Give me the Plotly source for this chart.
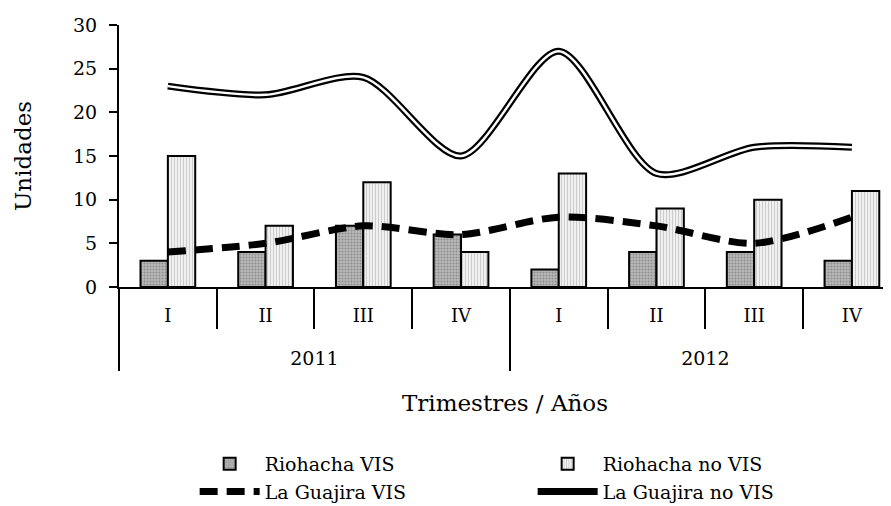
import plotly.graph_objects as go

# Data
years = ['2011', '2011', '2011', '2011', '2012', '2012', '2012', '2012']
quarters = ['I', 'II', 'III', 'IV', 'I', 'II', 'III', 'IV']
year_labels = ['2011', '2012']

riohacha_vis = [3, 4, 7, 6, 2, 4, 4, 3]
riohacha_no_vis = [15, 7, 12, 4, 13, 9, 10, 11]
guajira_vis = [4, 5, 7, 6, 8, 7, 5, 8]
guajira_no_vis = [23, 22, 24, 15, 27, 13, 16, 16]

# unique category keys, one per quarter
cats = ['{} {}'.format(y, q) for y, q in zip(years, quarters)]
n = len(cats)
per_year = n // len(year_labels)

font_family = 'DejaVu Serif'
x_range = [-0.5, n - 0.6]

fig = go.Figure()

fig.add_trace(go.Bar(x=cats, y=riohacha_vis, name='Riohacha VIS',
                     marker=dict(color='#a8a8a8', line=dict(color='black', width=2),
                                 pattern=dict(shape='.', fgcolor='#606060', bgcolor='#b8b8b8',
                                              size=3, solidity=0.35))))
fig.add_trace(go.Bar(x=cats, y=riohacha_no_vis, name='Riohacha no VIS',
                     marker=dict(color='#eeeeee', line=dict(color='black', width=2),
                                 pattern=dict(shape='|', fgcolor='#a0a0a0', bgcolor='#f0f0f0',
                                              size=3, solidity=0.3))))

fig.add_trace(go.Scatter(x=cats, y=guajira_vis, name='La Guajira VIS', mode='lines',
                         line=dict(color='black', width=7, dash='18px,9px',
                                   shape='spline', smoothing=0.8)))

# double line: thick black under a thin white line
fig.add_trace(go.Scatter(x=cats, y=guajira_no_vis, name='La Guajira no VIS', mode='lines',
                         legendgroup='nv',
                         line=dict(color='black', width=7, shape='spline', smoothing=0.8)))
fig.add_trace(go.Scatter(x=cats, y=guajira_no_vis, name='La Guajira no VIS', mode='lines',
                         legendgroup='nv', showlegend=False, hoverinfo='skip',
                         line=dict(color='white', width=2.5, shape='spline', smoothing=0.8)))

# year boundaries and year centres in category-index units
year_bounds = [i * per_year - 0.5 for i in range(len(year_labels) + 1)]
year_centers = [i * per_year + (per_year - 1) / 2 for i in range(len(year_labels))]

# empty helper traces so the overlay axes (year dividers / year labels) get drawn
fig.add_trace(go.Scatter(x=year_bounds, y=[None] * len(year_bounds), xaxis='x2',
                         showlegend=False, hoverinfo='skip'))
fig.add_trace(go.Scatter(x=year_centers, y=[None] * len(year_centers), xaxis='x3',
                         showlegend=False, hoverinfo='skip'))

# the page body adds an 8px offset, so the figure is 8px smaller than the window
fig.update_layout(
    width=883, height=498,
    margin=dict(l=111, r=0, t=17, b=219, autoexpand=False),
    plot_bgcolor='white', paper_bgcolor='white',
    font=dict(family=font_family, size=19, color='black'),
    barmode='group', bargap=0.44, bargroupgap=0,
    showlegend=True,
    legend=dict(orientation='h', x=0.098, y=-0.603, xanchor='left', yanchor='top',
                entrywidth=263, traceorder='normal', font=dict(size=19),
                itemwidth=60, tracegroupgap=0),
    xaxis=dict(type='category', categoryorder='array', categoryarray=cats,
               tickvals=cats, ticktext=quarters, range=x_range,
               showline=True, linecolor='black', linewidth=2,
               ticks='outside', tickson='boundaries', ticklen=40, tickcolor='black', tickwidth=1.5,
               ticklabelstandoff=11, tickfont=dict(size=18),
               showgrid=False, automargin=False),
    # long dividers between years
    xaxis2=dict(overlaying='x', anchor='y', side='bottom', type='linear', range=x_range,
                tickvals=year_bounds, ticks='outside', ticklen=83, tickcolor='black', tickwidth=1.5,
                showticklabels=False, showgrid=False, zeroline=False, automargin=False),
    # year labels and axis title
    xaxis3=dict(overlaying='x', anchor='y', side='bottom', type='linear', range=x_range,
                tickvals=year_centers, ticktext=year_labels, ticks='',
                ticklabelstandoff=58, showgrid=False, zeroline=False, automargin=False,
                title=dict(text='Trimestres / Años', standoff=26)),
    yaxis=dict(range=[0, 30], dtick=5, showline=True, linecolor='black', linewidth=2,
               ticks='outside', ticklen=8, tickcolor='black', tickwidth=1.5,
               ticklabelstandoff=8,
               title=dict(text='Unidades', standoff=35),
               showgrid=False, zeroline=False, automargin=False),
)

fig.write_html('out.html')
